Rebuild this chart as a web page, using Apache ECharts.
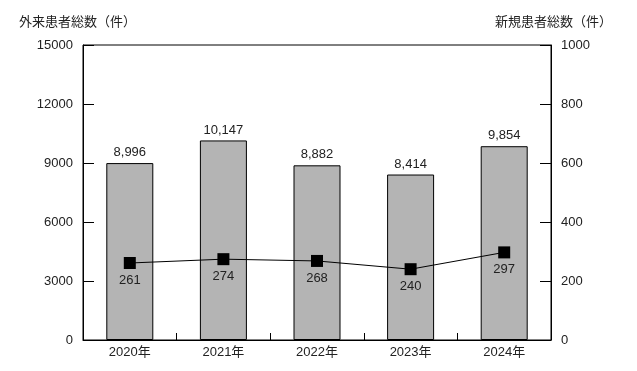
<!DOCTYPE html>
<html><head><meta charset="utf-8">
<script src="https://cdn.jsdelivr.net/npm/echarts@6/dist/echarts.min.js"></script>
<style>html,body{margin:0;padding:0;background:#fff}#c{width:637px;height:371px}</style>
</head><body><div id="c"></div>
<script>
const categories = ['2020年','2021年','2022年','2023年','2024年'];
const outpatients = [8996, 10147, 8882, 8414, 9854];
const newPatients = [261, 274, 268, 240, 297];
const leftTicks = {min:0, max:15000, interval:3000};
const rightTicks = {min:0, max:1000, interval:200};
const FONT = '"Liberation Sans Narrow","Liberation Sans","Noto Sans CJK JP",sans-serif';
const TFONT = '"Noto Sans CJK JP",sans-serif';
const chart = echarts.init(document.getElementById('c'), null, {renderer:'canvas'});
chart.setOption({
  animation:false,
  textStyle:{fontFamily:FONT},
  grid:{left:83, right:86, top:45, bottom:31, show:true, borderColor:'#000', borderWidth:1, backgroundColor:'transparent'},
  title:[
    {text:'外来患者総数（件）', left:14, top:10, textStyle:{fontSize:13, fontWeight:'normal', color:'#222', fontFamily:TFONT}},
    {text:'新規患者総数（件）', right:20, top:10, textStyle:{fontSize:13, fontWeight:'normal', color:'#222', fontFamily:TFONT}}
  ],
  xAxis:{type:'category', data:categories,
    axisLine:{lineStyle:{color:'#000'}},
    axisTick:{show:true, inside:true, length:7, lineStyle:{color:'#000'}},
    axisLabel:{color:'#222', fontSize:13, margin:6, fontFamily:FONT}},
  yAxis:[
    {type:'value', min:leftTicks.min, max:leftTicks.max, interval:leftTicks.interval,
     splitLine:{show:false},
     axisLine:{show:true, lineStyle:{color:'#000'}},
     axisTick:{show:true, inside:true, length:11, lineStyle:{color:'#000'}},
     axisLabel:{color:'#222', fontSize:13, margin:10, fontFamily:FONT, formatter:v=>String(v)}},
    {type:'value', min:rightTicks.min, max:rightTicks.max, interval:rightTicks.interval,
     splitLine:{show:false},
     axisLine:{show:true, lineStyle:{color:'#000'}},
     axisTick:{show:true, inside:true, length:11, lineStyle:{color:'#000'}},
     axisLabel:{color:'#222', fontSize:13, margin:10, fontFamily:FONT, formatter:v=>String(v)}}
  ],
  series:[
    {type:'bar', data:outpatients, yAxisIndex:0, barWidth:47,
     itemStyle:{color:'#b4b4b4', borderColor:'#000', borderWidth:1},
     label:{show:true, position:'top', distance:4, color:'#222', fontSize:13, fontFamily:FONT,
       formatter:p=>p.value.toLocaleString('en-US')}},
    {type:'line', data:newPatients, yAxisIndex:1, symbol:'rect', symbolSize:12,
     lineStyle:{color:'#000', width:1}, itemStyle:{color:'#000'},
     label:{show:true, position:'bottom', distance:5, color:'#222', fontSize:13, fontFamily:FONT}}
  ]
});
</script></body></html>
